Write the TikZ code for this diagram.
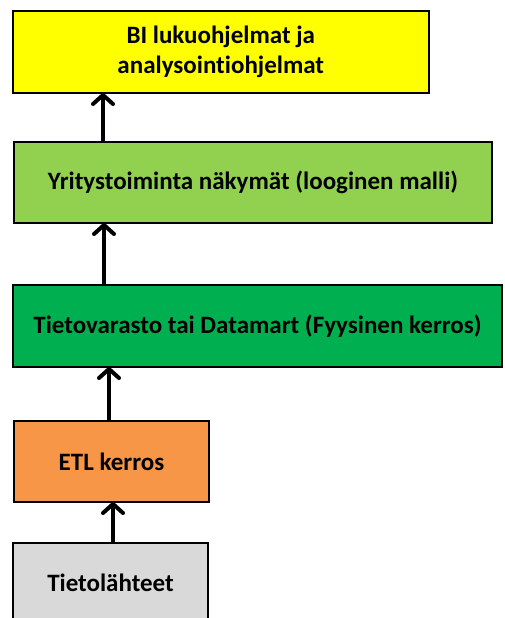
\documentclass[tikz,border=0pt]{standalone}
\usepackage{fontspec}
\setmainfont[Ligatures=NoCommon]{Carlito}
\usetikzlibrary{arrows.meta}
\definecolor{biyellow}{HTML}{FFFF00}
\definecolor{viewgreen}{HTML}{92D050}
\definecolor{dwgreen}{HTML}{00B050}
\definecolor{etlorange}{HTML}{F79646}
\definecolor{srcgray}{HTML}{D9D9D9}
\tikzset{
  layer/.style={draw=black, line width=2pt, anchor=north west, inner sep=0pt, outer sep=0pt,
    align=center, font=\fontsize{25}{30}\selectfont\bfseries, text=black},
  uparrow/.style={line width=4pt, -{Straight Barb[length=9pt,width=20pt,round]}}
}
\begin{document}
\begin{tikzpicture}[x=1pt,y=-1pt]
  \useasboundingbox (0,0) rectangle (504,618);
  \clip (0,0) rectangle (504,618);
  % layers, top to bottom
  \node[layer, fill=biyellow, minimum width=416.5pt, minimum height=82pt] (bi) at (12.5,11)
    {BI lukuohjelmat ja\\analysointiohjelmat};
  \node[layer, fill=viewgreen, minimum width=478pt, minimum height=81pt] (views) at (14,142)
    {Yritystoiminta näkymät (looginen malli)};
  \node[layer, fill=dwgreen, minimum width=489pt, minimum height=82pt] (dw) at (13,285)
    {Tietovarasto tai Datamart (Fyysinen kerros)};
  \node[layer, fill=etlorange, minimum width=195pt, minimum height=81pt] (etl) at (14,421)
    {ETL kerros};
  \node[layer, fill=srcgray, minimum width=195pt, minimum height=80pt] (src) at (13,543)
    {Tietolähteet};
  % data flows upward
  \draw[uparrow] ([xshift=89pt]views.north west) -- ([xshift=90.5pt]bi.south west);
  \draw[uparrow] ([xshift=91pt]dw.north west) -- ([xshift=90pt]views.south west);
  \draw[uparrow] ([xshift=95pt]etl.north west) -- ([xshift=96pt]dw.south west);
  \draw[uparrow] ([xshift=100pt]src.north west) -- ([xshift=99pt]etl.south west);
\end{tikzpicture}
\end{document}
